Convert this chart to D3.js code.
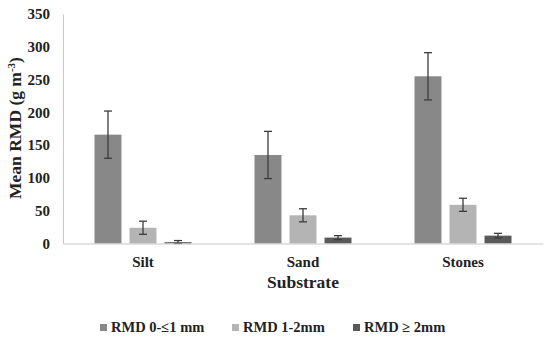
<!DOCTYPE html>
<html>
<head>
<meta charset="utf-8">
<script src="https://cdn.jsdelivr.net/npm/d3@7"></script>
<style>
  body { margin: 0; background: #fff; }
</style>
</head>
<body>
<div id="chart"></div>
<script>
const substrates = ['Silt', 'Sand', 'Stones'];
const series = ['RMD 0-≤1 mm', 'RMD 1-2mm', 'RMD ≥ 2mm'];
const fine = [166, 135, 255];
const mid = [24, 43, 59];
const coarse = [2, 9, 12];
const fineErr = [36, 36, 36];
const midErr = [10, 10, 10];
const coarseErr = [2.5, 3, 3.5];
const yTicks = [0, 50, 100, 150, 200, 250, 300, 350];

const colors = ['#888888', '#b4b4b4', '#595959'];
const font = "'Liberation Serif', 'Times New Roman', serif";
const W = 550, H = 346;
const margin = { top: 14, left: 63, right: 7, bottom: 102.5 };

const svg = d3.select('#chart').append('svg')
    .attr('width', W)
    .attr('height', H);

const x = d3.scaleBand()
    .domain(substrates)
    .range([margin.left, W - margin.right]);

const inner = d3.scaleBand()
    .domain(series)
    .range([0, 97])
    .paddingInner(0.23);

const y = d3.scaleLinear()
    .domain([0, 350])
    .range([H - margin.bottom, margin.top]);

const values = [fine, mid, coarse];
const errs = [fineErr, midErr, coarseErr];
const rows = [];
substrates.forEach((s, i) => {
    series.forEach((k, j) => {
        rows.push({ s, k, j, v: values[j][i], e: errs[j][i] });
    });
});

const bx = d => x(d.s) + x.bandwidth() / 2 - 48.5 + inner(d.k);

// y axis
const yAxis = svg.append('g')
    .attr('transform', `translate(${margin.left},0)`)
    .call(d3.axisLeft(y).tickValues(yTicks).tickSize(0).tickPadding(13));
yAxis.select('.domain').attr('stroke', '#c8c8c8');

// bars
svg.append('g').selectAll('rect')
    .data(rows)
    .join('rect')
    .attr('x', bx)
    .attr('width', inner.bandwidth())
    .attr('y', d => y(d.v))
    .attr('height', d => y(0) - y(d.v))
    .attr('fill', d => colors[d.j]);

// error bars
const eb = svg.append('g').attr('stroke', '#3c3c3c').attr('stroke-width', 1.3);
rows.forEach(d => {
    const cx = bx(d) + inner.bandwidth() / 2;
    eb.append('line').attr('x1', cx).attr('x2', cx).attr('y1', y(d.v + d.e)).attr('y2', y(Math.max(0, d.v - d.e)));
    [d.v + d.e, Math.max(0, d.v - d.e)].forEach(t => {
        eb.append('line').attr('x1', cx - 4).attr('x2', cx + 4).attr('y1', y(t)).attr('y2', y(t));
    });
});

// x axis
const xAxis = svg.append('g')
    .attr('transform', `translate(0,${y(0)})`)
    .call(d3.axisBottom(x).tickSize(0).tickPadding(13));
xAxis.select('.domain').attr('stroke', '#c8c8c8');

// axis titles
svg.append('text')
    .attr('x', x.range()[0] + (x.range()[1] - x.range()[0]) / 2)
    .attr('y', 288)
    .attr('text-anchor', 'middle')
    .style('font-size', '17.5px')
    .text('Substrate');

const yt = svg.append('text')
    .attr('transform', 'translate(21,128) rotate(-90)')
    .attr('text-anchor', 'middle')
    .style('font-size', '17.5px');
yt.append('tspan').text('Mean RMD (g m');
yt.append('tspan').attr('dy', -6).style('font-size', '11px').text('-3');
yt.append('tspan').attr('dy', 6).text(')');

// legend
const legX = [100, 232, 353];
const leg = svg.append('g');
series.forEach((k, j) => {
    leg.append('rect')
        .attr('x', legX[j]).attr('y', 324)
        .attr('width', 7).attr('height', 7)
        .attr('fill', colors[j]);
    leg.append('text')
        .attr('x', legX[j] + 11).attr('y', 332)
        .style('font-size', '14.5px')
        .text(k);
});

svg.selectAll('text')
    .style('font-family', font)
    .style('font-weight', 'bold')
    .attr('fill', '#222');
yAxis.selectAll('.tick text').style('font-size', '15px');
xAxis.selectAll('.tick text').style('font-size', '15px');
</script>
</body>
</html>
